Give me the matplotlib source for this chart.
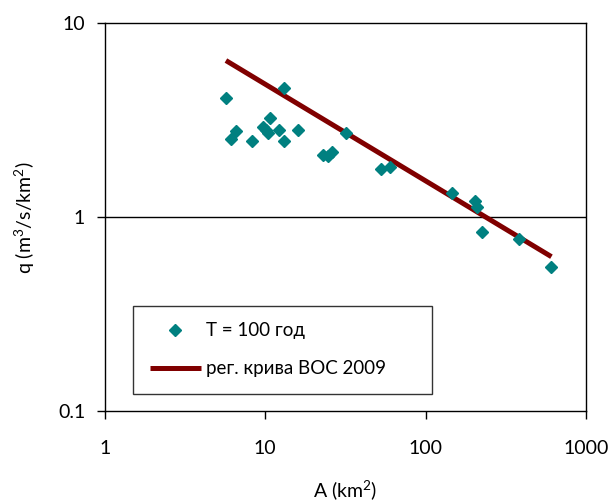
import matplotlib
matplotlib.use("Agg")
import matplotlib.pyplot as plt
from matplotlib.ticker import FixedLocator, NullLocator

plt.rcParams['font.family'] = ['Lato', 'DejaVu Sans']
plt.rcParams['mathtext.fontset'] = 'custom'
plt.rcParams['mathtext.rm'] = 'Lato'
plt.rcParams['mathtext.default'] = 'rm'

# observed specific discharge, T = 100 years
area_km2 = [5.7, 6.12, 6.58, 8.27, 9.73, 10.45, 10.76, 10.2, 12.24, 13.15, 13.15,
            16.1, 23.0, 24.7, 26.3, 32.0, 52.5, 59.9, 147, 203, 208, 225, 383, 609]
q_obs = [4.14, 2.52, 2.77, 2.46, 2.91, 2.71, 3.23, 2.80, 2.82, 4.62, 2.46,
         2.82, 2.10, 2.08, 2.16, 2.73, 1.78, 1.82, 1.34, 1.21, 1.13, 0.844, 0.774, 0.557]

# regional curve (endpoints)
curve_area = [5.7, 609]
curve_q = [6.42, 0.626]

x_ticks = [1, 10, 100, 1000]
y_ticks = [0.1, 1, 10]

fig = plt.figure(figsize=(6.12, 5.04), dpi=100)
ax = fig.add_axes([0.171, 0.184, 0.7865, 0.770])

ax.plot(curve_area, curve_q, color="#800000", linewidth=3.6,
        solid_capstyle="butt", label="рег. крива ВОС 2009", zorder=2)
ax.plot(area_km2, q_obs, linestyle="none", marker="D", markersize=6.3,
        color="#008080", markeredgecolor="#008080", label="T = 100 год", zorder=3)

ax.set_xscale("log")
ax.set_yscale("log")
ax.set_xlim(1, 1000)
ax.set_ylim(0.1, 10)
ax.xaxis.set_major_locator(FixedLocator(x_ticks))
ax.yaxis.set_major_locator(FixedLocator(y_ticks))
ax.xaxis.set_minor_locator(NullLocator())
ax.yaxis.set_minor_locator(NullLocator())
ax.set_xticklabels(["1", "10", "100", "1000"])
ax.set_yticklabels(["0.1", "1", "10"])
ax.tick_params(axis="both", which="major", direction="out", length=6, width=1,
               labelsize=14, colors="black")
ax.tick_params(axis="x", pad=15)
ax.tick_params(axis="y", pad=8)
ax.axhline(1, color="black", linewidth=1, zorder=1)

for s in ax.spines.values():
    s.set_linewidth(1)
    s.set_color("black")

ax.set_xlabel(r"A (km$^2$)", fontsize=14, labelpad=15)
ax.set_ylabel(r"q (m$^3$/s/km$^2$)", fontsize=14, labelpad=15)

h, l = ax.get_legend_handles_labels()
leg = ax.legend(h[::-1], l[::-1], loc="lower left",
                bbox_to_anchor=(0.0594, 0.0446, 0.621, 0.227), mode="expand",
                borderaxespad=0, fontsize=13.5, frameon=True, fancybox=False,
                edgecolor="black", handlelength=2.7, handletextpad=0.3,
                labelspacing=1.1, borderpad=0.9)
leg.get_frame().set_linewidth(1)

fig.savefig("out.png", dpi=100)
